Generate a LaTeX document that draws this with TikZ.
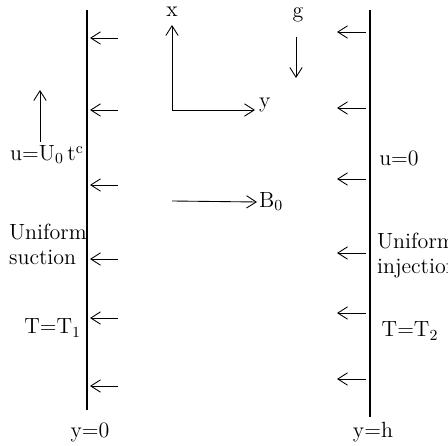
\documentclass[tikz,border=0pt]{standalone}
\usetikzlibrary{arrows.meta,positioning}

\begin{document}
\begin{tikzpicture}[>={Straight Barb[length=5.5pt,width=7pt]}]
  \tikzstyle{wall}=[line width=1.1pt]
  \tikzstyle{flow}=[line width=0.5pt,->]
  \tikzstyle{lbl}=[inner sep=1pt,align=left,font=\fontsize{12.5}{14.4}\selectfont]
  \useasboundingbox (0,0) rectangle (8.96,-8.9);
  % plates
  \coordinate (lt) at (1.74,-0.2);
  \coordinate (lb) at (1.74,-8.2);
  \coordinate (rt) at (7.4,-0.2);
  \coordinate (rb) at (7.4,-8.34);
  \draw[wall] (lt) -- (lb);
  \draw[wall] (rt) -- (rb);
  % suction / injection arrows
  \coordinate (ls1) at (2.36,-0.76); \coordinate (lw1) at (1.8,-0.76);
  \coordinate (ls2) at (2.36,-2.2);  \coordinate (lw2) at (1.8,-2.2);
  \coordinate (ls3) at (2.36,-3.7);  \coordinate (lw3) at (1.8,-3.7);
  \coordinate (ls4) at (2.36,-5.18); \coordinate (lw4) at (1.8,-5.18);
  \coordinate (ls5) at (2.36,-6.36); \coordinate (lw5) at (1.8,-6.36);
  \coordinate (ls6) at (2.36,-7.72); \coordinate (lw6) at (1.8,-7.72);
  \draw[flow] (ls1) -- (lw1);
  \draw[flow] (ls2) -- (lw2);
  \draw[flow] (ls3) -- (lw3);
  \draw[flow] (ls4) -- (lw4);
  \draw[flow] (ls5) -- (lw5);
  \draw[flow] (ls6) -- (lw6);
  \coordinate (rs1) at (7.32,-0.64); \coordinate (rw1) at (6.74,-0.64);
  \coordinate (rs2) at (7.32,-2.16); \coordinate (rw2) at (6.74,-2.16);
  \coordinate (rs3) at (7.32,-3.58); \coordinate (rw3) at (6.74,-3.58);
  \coordinate (rs4) at (7.32,-5.06); \coordinate (rw4) at (6.74,-5.06);
  \coordinate (rs5) at (7.32,-6.26); \coordinate (rw5) at (6.74,-6.26);
  \coordinate (rs6) at (7.32,-7.58); \coordinate (rw6) at (6.74,-7.58);
  \draw[flow] (rs1) -- (rw1);
  \draw[flow] (rs2) -- (rw2);
  \draw[flow] (rs3) -- (rw3);
  \draw[flow] (rs4) -- (rw4);
  \draw[flow] (rs5) -- (rw5);
  \draw[flow] (rs6) -- (rw6);
  % axes
  \coordinate (O) at (3.44,-2.2);
  \coordinate (xtip) at (3.44,-0.5);
  \coordinate (ytip) at (5.1,-2.2);
  \node[lbl] (xlab) at (3.44,-0.24) {x};
  \node[lbl,anchor=west] (ylab) at (5.14,-2.1) {y};
  \draw[flow] (O) -- (xtip);
  \draw[flow] (O) -- (ytip);
  % gravity
  \node[lbl] (glab) at (5.96,-0.3) {g};
  \coordinate (gs) at (5.92,-0.74);
  \coordinate (ge) at (5.92,-1.56);
  \draw[flow] (gs) -- (ge);
  % magnetic field
  \coordinate (bs) at (3.44,-4.02);
  \node[lbl,anchor=west] (blab) at (5.14,-4.04) {B\textsubscript{0}};
  \draw[flow] (bs) -- (blab.west);
  % left plate
  \node[lbl] (ulab) at (0.94,-3.1) {u=U\textsubscript{0}\,t\textsuperscript{c}};
  \coordinate (utip) at (0.8,-1.8);
  \coordinate (ubase) at (0.8,-2.84);
  \draw[flow] (ubase) -- (utip);
  \node[lbl,anchor=west] (suct) at (0.14,-4.89) {Uniform\\suction};
  \node[lbl,anchor=east] (T1) at (1.66,-6.56) {T=T\textsubscript{1}};
  \node[lbl] (y0) at (1.8,-8.64) {y=0};
  % right plate
  \node[lbl] (u0) at (7.98,-3.16) {u=0};
  \node[lbl,anchor=west] (inj) at (7.5,-5.11) {Uniform\\injection};
  \node[lbl] (T2) at (8.2,-6.62) {T=T\textsubscript{2}};
  \node[lbl] (yh) at (7.46,-8.64) {y=h};
\end{tikzpicture}
\end{document}
